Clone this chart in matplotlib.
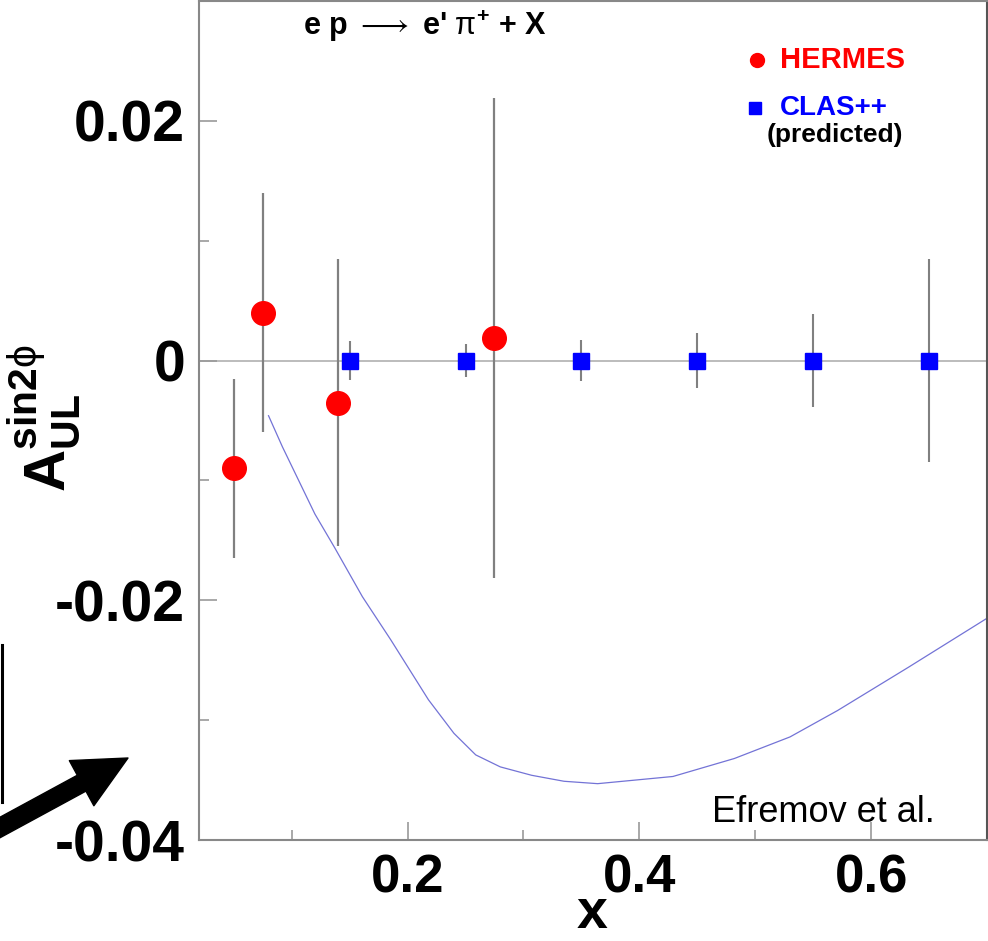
import numpy as np
import matplotlib
matplotlib.use('Agg')
import matplotlib.pyplot as plt
from matplotlib.ticker import FixedLocator
from matplotlib.lines import Line2D

plt.rcParams['font.family'] = ['Liberation Sans', 'DejaVu Sans']
plt.rcParams['mathtext.fontset'] = 'custom'
plt.rcParams['mathtext.rm'] = 'Liberation Sans'
plt.rcParams['mathtext.bf'] = 'Liberation Sans:bold'
plt.rcParams['mathtext.it'] = 'Liberation Sans:italic'
plt.rcParams['mathtext.sf'] = 'Liberation Sans'

# HERMES measured points (x, asymmetry, error)
hermes_x = [0.050, 0.075, 0.140, 0.2745]
hermes_y = [-0.0090, 0.0040, -0.0035, 0.0019]
hermes_err = [0.0075, 0.0100, 0.0120, 0.0200]

# CLAS++ projected points (all at zero)
clas_x = [0.15, 0.25, 0.35, 0.45, 0.55, 0.65]
clas_y = [0.0, 0.0, 0.0, 0.0, 0.0, 0.0]
clas_err = [0.0016, 0.0014, 0.0017, 0.0023, 0.0039, 0.0085]

# Efremov et al. model curve
curve_x = [0.080, 0.092, 0.1045, 0.120, 0.137, 0.161, 0.1855, 0.218, 0.240, 0.2588,
           0.280, 0.307, 0.335, 0.364, 0.429, 0.482, 0.530, 0.571, 0.632, 0.700]
curve_y = [-0.0046, -0.0072, -0.0097, -0.0128, -0.0156, -0.0197, -0.0233, -0.0283,
           -0.0311, -0.0329, -0.0339, -0.0346, -0.0351, -0.0353, -0.0347, -0.0332,
           -0.0314, -0.0292, -0.0256, -0.0215]

x_major = [0.2, 0.4, 0.6]
x_minor = [0.1, 0.3, 0.5]
y_major = [-0.04, -0.02, 0.0, 0.02]
y_minor = [-0.03, -0.01, 0.01]

W, H = 988, 941
fig = plt.figure(figsize=(W / 100, H / 100), dpi=100)
ax = fig.add_axes([199 / W, 1 - 840 / H, 788 / W, 839 / H])

ax.axhline(0, color='#aaaaaa', lw=1.1, zorder=1)
ax.plot(curve_x, curve_y, color='#7373d6', lw=0.9, zorder=2)

ax.errorbar(hermes_x, hermes_y, yerr=hermes_err, fmt='o', color='red', ms=17,
            ecolor='#808080', elinewidth=1.6, capsize=0, zorder=3)
ax.errorbar(clas_x, clas_y, yerr=clas_err, fmt='s', color='blue', ms=12,
            ecolor='#808080', elinewidth=1.5, capsize=0, zorder=3)

ax.set_xlim(0.02, 0.7)
ax.set_ylim(-0.04, 0.03)

ax.xaxis.set_major_locator(FixedLocator(x_major))
ax.xaxis.set_minor_locator(FixedLocator(x_minor))
ax.yaxis.set_major_locator(FixedLocator(y_major))
ax.yaxis.set_minor_locator(FixedLocator(y_minor))
ax.set_xticklabels(['0.2', '0.4', '0.6'])
ax.set_yticklabels(['-0.04', '-0.02', '0', '0.02'])

ax.tick_params(which='both', direction='in', color='#999999', width=1.2)
ax.tick_params(which='major', length=13)
ax.tick_params(which='minor', length=7)
ax.tick_params(axis='y', labelsize=41, pad=10)
ax.tick_params(axis='x', labelsize=38, pad=10)
for lab in ax.get_xticklabels() + ax.get_yticklabels():
    lab.set_fontweight('bold')

for s in ax.spines.values():
    s.set_color('#888888')
    s.set_linewidth(1.5)
ax.spines['right'].set_color('#555555')

# title
ax.text(0.132, 0.9595, r"e p $\longrightarrow$ e' $\mathrm{\pi}^{\mathbf{+}}$ + X",
        transform=ax.transAxes, fontsize=22, fontweight='bold', ha='left', va='baseline')

# legend
ax.plot([0.708], [0.9297], 'o', color='red', ms=10, transform=ax.transAxes, clip_on=False)
ax.text(0.737, 0.9297, 'HERMES', color='red', fontsize=21, fontweight='bold',
        transform=ax.transAxes, ha='left', va='center')
ax.plot([0.7056], [0.8725], 's', color='blue', ms=8.5, transform=ax.transAxes, clip_on=False)
ax.text(0.737, 0.872, 'CLAS++', color='blue', fontsize=20, fontweight='bold',
        transform=ax.transAxes, ha='left', va='center')
ax.text(0.720, 0.840, '(predicted)', color='black', fontsize=19, fontweight='bold',
        transform=ax.transAxes, ha='left', va='center')

ax.text(0.934, 0.0215, 'Efremov et al.', fontsize=26, transform=ax.transAxes,
        ha='right', va='baseline')

# axis titles
fig.text(592 / W, 1 / H, 'x', fontsize=40, fontweight='bold', ha='center', va='bottom')
fig.text(44 / W, 1 - 418 / H, r'$\mathbf{A}_{\mathbf{UL}}^{\mathbf{sin2}\mathrm{\phi}}$',
         fontsize=42, rotation=90, ha='center', va='center')

# slide arrow and edge line
ax.annotate('', xy=(128, H - 758), xytext=(-12, H - 834), xycoords='figure pixels',
            textcoords='figure pixels', annotation_clip=False,
            arrowprops=dict(facecolor='black', edgecolor='black', width=13,
                            headwidth=37, headlength=38, shrink=0))
fig.add_artist(Line2D([1.5 / W, 1.5 / W], [1 - 645 / H, 1 - 802 / H], color='black', lw=2.2))

fig.savefig('out.png', dpi=100)
